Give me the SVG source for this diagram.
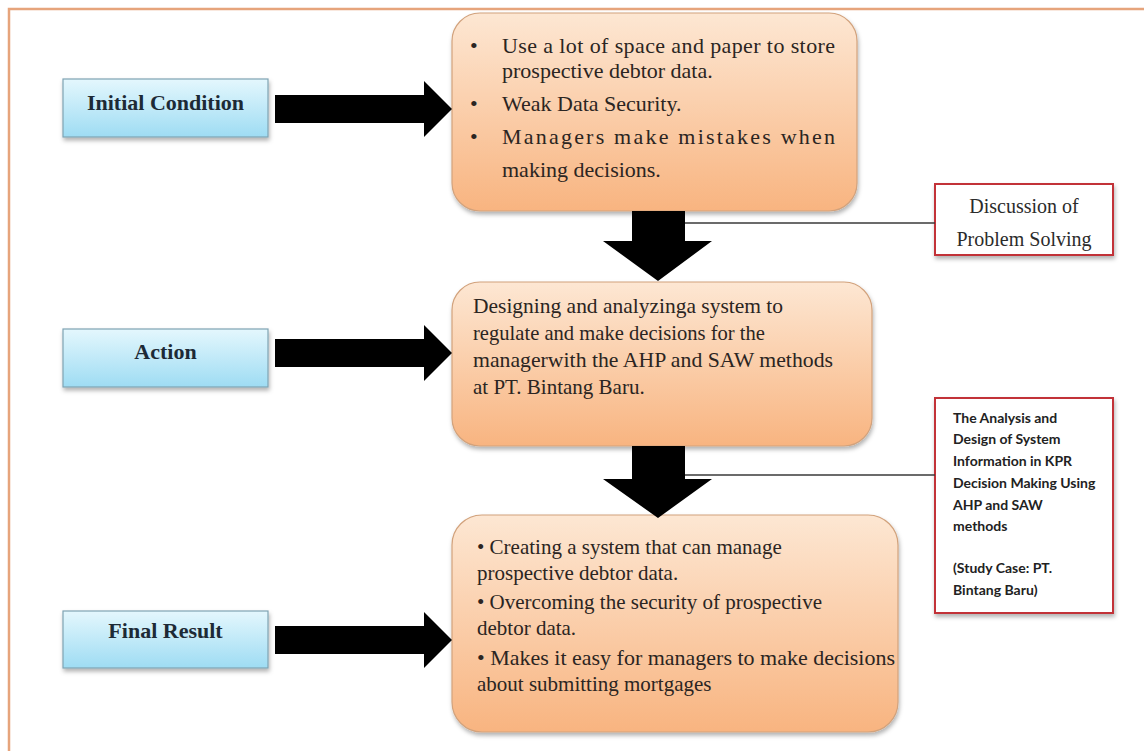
<svg xmlns="http://www.w3.org/2000/svg" width="1144" height="751" viewBox="0 0 1144 751">
<defs>
<linearGradient id="blue" x1="0" y1="0" x2="0" y2="1">
<stop offset="0" stop-color="#e4f7fd"/>
<stop offset="1" stop-color="#9edcf3"/>
</linearGradient>
<linearGradient id="orange" x1="0" y1="0" x2="0" y2="1">
<stop offset="0" stop-color="#fde7d3"/>
<stop offset="1" stop-color="#f8b480"/>
</linearGradient>
<filter id="sh" x="-5%" y="-5%" width="112%" height="120%">
<feDropShadow dx="1" dy="3" stdDeviation="2" flood-color="#000" flood-opacity="0.3"/>
</filter>
</defs>
<style>
.frame{stroke:#e6a47c;stroke-width:2.5;fill:none}
.lbl{fill:url(#blue);stroke:#7fa3b3;stroke-width:1.2}
.lbltxt{font-family:"Liberation Serif",serif;font-weight:bold;font-size:22px;fill:#1d2a36;text-anchor:middle}
.box{fill:url(#orange);stroke:#d2a27c;stroke-width:1.2}
.t{font-family:"Liberation Serif",serif;font-size:21px;fill:#2b2522}
.t1{font-size:22px}
.note{fill:#fff;stroke:#c23038;stroke-width:2}
.nt{font-family:"Liberation Serif",serif;font-size:20px;fill:#2b2b2b;text-anchor:middle}
.ns{font-family:Lato,"Open Sans",sans-serif;font-weight:bold;font-size:14px;fill:#222}
.arr{fill:#000}
.ln{stroke:#3a3a3a;stroke-width:1.5;fill:none}
</style>
<rect width="1144" height="751" fill="#fff"/>
<path class="frame" d="M9,751 V9 H1144"/>

<g id="initial-condition">
<rect class="lbl" x="63" y="79" width="205" height="58" filter="url(#sh)"/>
<text class="lbltxt" x="165.5" y="110">Initial Condition</text>
</g>
<g id="action">
<rect class="lbl" x="63" y="329" width="205" height="58" filter="url(#sh)"/>
<text class="lbltxt" x="165.5" y="359">Action</text>
</g>
<g id="final-result">
<rect class="lbl" x="63" y="611" width="205" height="57" filter="url(#sh)"/>
<text class="lbltxt" x="165.5" y="638">Final Result</text>
</g>

<g id="condition-box">
<rect class="box" x="452" y="13" width="405" height="198" rx="28" filter="url(#sh)"/>
<text class="t t1" x="470" y="53">•</text>
<text class="t t1" x="502" y="53" textLength="333" lengthAdjust="spacing">Use a lot of space and paper to store</text>
<text class="t t1" x="502" y="78">prospective debtor data.</text>
<text class="t t1" x="470" y="111">•</text>
<text class="t t1" x="502" y="111">Weak Data Security.</text>
<text class="t t1" x="470" y="144">•</text>
<text class="t t1" x="502" y="144" textLength="333" lengthAdjust="spacing">Managers make mistakes when</text>
<text class="t t1" x="502" y="177">making decisions.</text>
</g>

<g id="action-box">
<rect class="box" x="452" y="282" width="420" height="164" rx="28" filter="url(#sh)"/>
<text class="t" x="473" y="313" textLength="310" lengthAdjust="spacingAndGlyphs">Designing and analyzinga system to</text>
<text class="t" x="473" y="340" textLength="292" lengthAdjust="spacingAndGlyphs">regulate and make decisions for the</text>
<text class="t" x="473" y="367" textLength="360" lengthAdjust="spacingAndGlyphs">managerwith the AHP and SAW methods</text>
<text class="t" x="473" y="394">at PT. Bintang Baru.</text>
</g>

<g id="result-box">
<rect class="box" x="452" y="515" width="446" height="217" rx="30" filter="url(#sh)"/>
<text class="t" x="477" y="554">• Creating a system that can manage</text>
<text class="t" x="477" y="580">prospective debtor data.</text>
<text class="t" x="477" y="609">• Overcoming the security of prospective</text>
<text class="t" x="477" y="635">debtor data.</text>
<text class="t" x="477" y="665" textLength="418" lengthAdjust="spacingAndGlyphs">• Makes it easy for managers to make decisions</text>
<text class="t" x="477" y="691">about submitting mortgages</text>
</g>

<g id="note-discussion">
<rect class="note" x="935" y="184" width="178" height="71" filter="url(#sh)"/>
<text class="nt" x="1024" y="213">Discussion of</text>
<text class="nt" x="1024" y="246">Problem Solving</text>
</g>

<g id="note-title">
<rect class="note" x="935" y="398" width="178" height="215" filter="url(#sh)"/>
<text class="ns" x="953" y="423">The Analysis and</text>
<text class="ns" x="953" y="444">Design of System</text>
<text class="ns" x="953" y="466">Information in KPR</text>
<text class="ns" x="953" y="488">Decision Making Using</text>
<text class="ns" x="953" y="510">AHP and SAW</text>
<text class="ns" x="953" y="531">methods</text>
<text class="ns" x="953" y="573">(Study Case: PT.</text>
<text class="ns" x="953" y="595">Bintang Baru)</text>
</g>

<g id="connectors">
<polygon class="arr" points="275,95 424,95 424,81 452,109 424,137 424,123 275,123"/>
<polygon class="arr" points="275,339 424,339 424,325 452,353 424,381 424,367 275,367"/>
<polygon class="arr" points="275,626 424,626 424,612 452,640 424,668 424,654 275,654"/>
<polygon class="arr" points="632,211 685,211 685,241 712,241 658,281 603,241 632,241"/>
<polygon class="arr" points="632,446 685,446 685,479 712,479 658,518 603,479 632,479"/>
<line class="ln" x1="685" y1="223" x2="935" y2="223"/>
<line class="ln" x1="685" y1="475" x2="935" y2="475"/>
</g>
</svg>
